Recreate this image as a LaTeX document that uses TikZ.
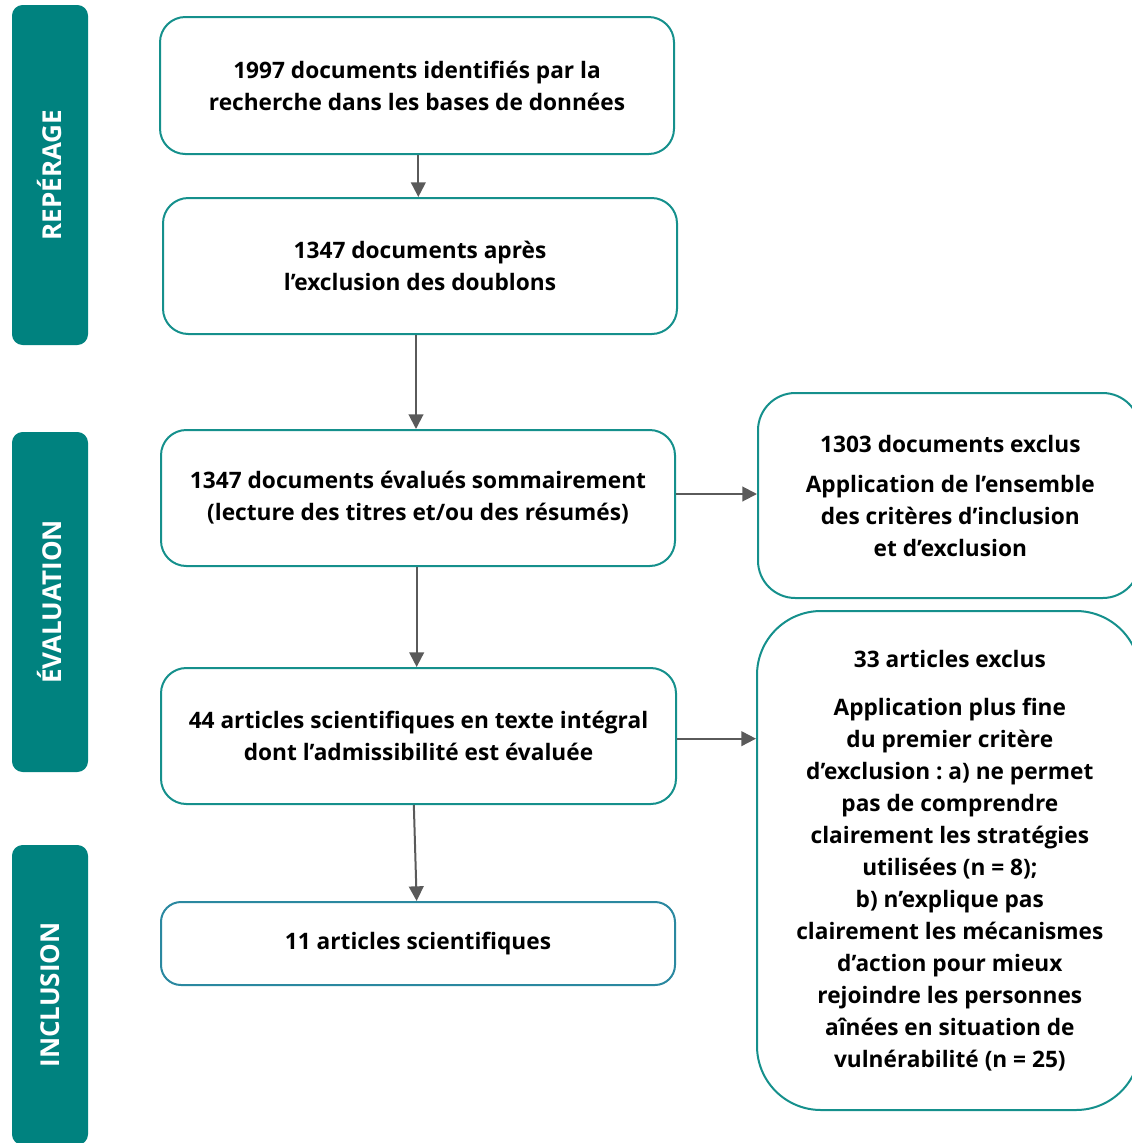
\documentclass[tikz,border=0pt]{standalone}
\usepackage{fontspec}
\setmainfont{Open Sans}
\usetikzlibrary{fit,arrows.meta}
\definecolor{sidefill}{HTML}{00827F}
\definecolor{bord}{HTML}{15908C}
\definecolor{bordb}{HTML}{2A88A0}
\definecolor{arrc}{HTML}{5A5A5A}
\frenchspacing
\begin{document}
\begin{tikzpicture}[x=0.75pt,y=-0.75pt,
  box/.style={draw=bord, line width=1.5pt, rounded corners=19pt, inner sep=0pt},
  txt/.style={align=center, inner sep=0pt,
    font=\bfseries\fontsize{17}{24}\selectfont\frenchspacing},
  side/.style={fill=sidefill, rounded corners=8pt, inner sep=0pt},
  sidetext/.style={rotate=90, text=white, font=\bfseries\fontsize{19.5}{22}\selectfont},
  arr/.style={draw=arrc, line width=1.5pt, -{Triangle[length=11pt,width=11pt]}}]
\useasboundingbox (0,0) rectangle (1132,1143);
\clip (0,0) rectangle (1132,1143);
% side bars
\node[side, fit={(12,5)(88,345)}] (s1) {};
\node[sidetext] (t1) at (s1) {REPÉRAGE};
\node[side, fit={(12,432)(88,772)}] (s2) {};
\node[sidetext] (t2) at (s2) {ÉVALUATION};
\node[side, fit={(12,845)(88,1145)}] (s3) {};
\node[sidetext] (t3) at (s3) {INCLUSION};
% main boxes
\node[box, fit={(160,17)(674,154)}] (b1) {};
\node[txt] (l1) at (b1) {1997 documents identifiés par la\\recherche dans les bases de données};
\node[box, fit={(163,198)(677,334)}] (b2) {};
\node[txt] (l2) at (b2) {1347 documents après\\l’exclusion des doublons};
\node[box, fit={(161,430)(675,566)}] (b3) {};
\node[txt] (l3) at (b3) {1347 documents évalués sommairement\\(lecture des titres et/ou des résumés)};
\node[box, fit={(161,668)(676,804)}] (b4) {};
\node[txt] (l4) at (b4) {44 articles scientifiques en texte intégral\\dont l’admissibilité est évaluée};
\node[box, draw=bordb, rounded corners=15pt, fit={(161,902)(675,985)}] (b5) {};
\node[txt] (l5) at (b5) {11 articles scientifiques};
% right boxes
\node[box, rounded corners=28pt, fit={(758,393)(1140,598)}] (ra) {};
\node[txt] (la) at ([xshift=1pt]ra.center) {1303 documents exclus\\[6pt]Application de l’ensemble\\des critères d’inclusion\\et d’exclusion};
\node[box, rounded corners=48pt, fit={(757,611)(1140,1110)}] (rb) {};
\node[txt] (lb) at ([xshift=1pt]rb.center) {33 articles exclus\\[12pt]Application plus fine\\du premier critère\\d’exclusion : a) ne permet\\pas de comprendre\\clairement les stratégies\\utilisées (n = 8);\\b) n’explique pas\\clairement les mécanismes\\d’action pour mieux\\rejoindre les personnes\\aînées en situation de\\vulnérabilité (n = 25)};
% arrows
\draw[arr] ([xshift=1pt]b1.south) -- ([xshift=1pt]b1.south |- b2.north);
\draw[arr] ([xshift=-3pt]b2.south) -- ([xshift=-3pt]b2.south |- b3.north);
\draw[arr] ([xshift=-1pt]b3.south) -- ([xshift=-1pt]b3.south |- b4.north);
\draw[arr] ([xshift=-3.5pt]b4.south) -- ([xshift=-1pt]b5.north);
\draw[arr] ([yshift=3pt]b3.east) -- ([yshift=3pt]b3.east -| ra.west);
\draw[arr] ([yshift=-2pt]b4.east) -- ([yshift=-2pt]b4.east -| rb.west);
\end{tikzpicture}
\end{document}
